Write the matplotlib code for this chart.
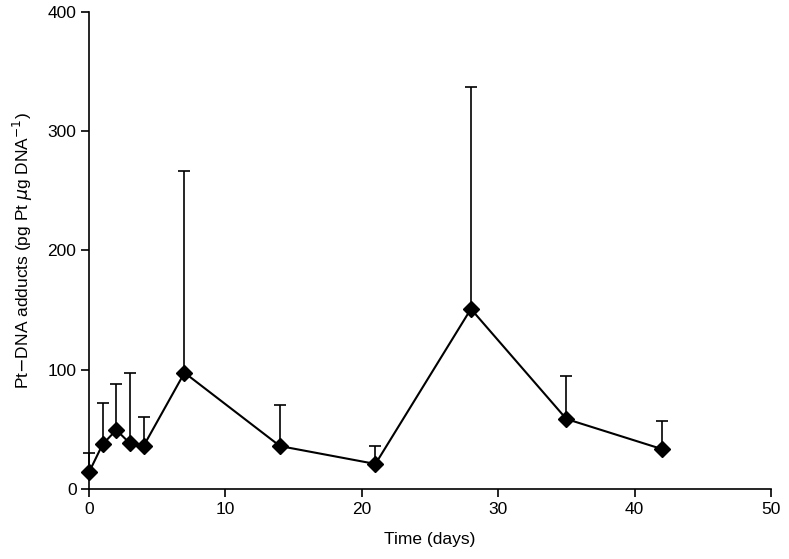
import matplotlib
matplotlib.use("Agg")
import matplotlib.pyplot as plt

days = [0, 1, 2, 3, 4, 7, 14, 21, 28, 35, 42]
adducts = [14, 37.5, 49.5, 38.3, 36, 97.5, 36, 21, 151, 58.7, 33.5]
upper = [30, 72.4, 88.3, 97.5, 60.6, 266.7, 70.4, 36, 337, 94.8, 57]
yerr_up = [u - m for u, m in zip(upper, adducts)]
yerr_low = [0] * len(days)

plt.rcParams['font.family'] = ['Liberation Sans', 'DejaVu Sans']
fig = plt.figure(figsize=(7.89, 5.59), dpi=100)
ax = fig.add_axes([89/789, 1-489/559, (771-89)/789, (489-12)/559])
ax.errorbar(days, adducts, yerr=[yerr_low, yerr_up], color='black', lw=1.5,
            marker='D', markersize=8.5, capsize=4.5, elinewidth=1.2, capthick=1.2)
ax.set_xlim(0, 50)
ax.set_ylim(0, 400)
ax.set_xticks([0, 10, 20, 30, 40, 50])
ax.set_yticks([0, 100, 200, 300, 400])
for s in ['top', 'right']:
    ax.spines[s].set_visible(False)
for s in ['left', 'bottom']:
    ax.spines[s].set_linewidth(1.2)
ax.tick_params(direction='out', length=6, width=1.2, labelsize=12.5, pad=3)
ax.set_xlabel('Time (days)', fontsize=12.5, labelpad=11)
ax.set_ylabel(r'Pt$-$DNA adducts (pg Pt $\mu$g DNA$^{-1}$)', fontsize=12.5, labelpad=9)
for c in ax.get_children():
    try:
        c.set_clip_on(False)
    except Exception:
        pass
fig.savefig('out.png', dpi=100)
